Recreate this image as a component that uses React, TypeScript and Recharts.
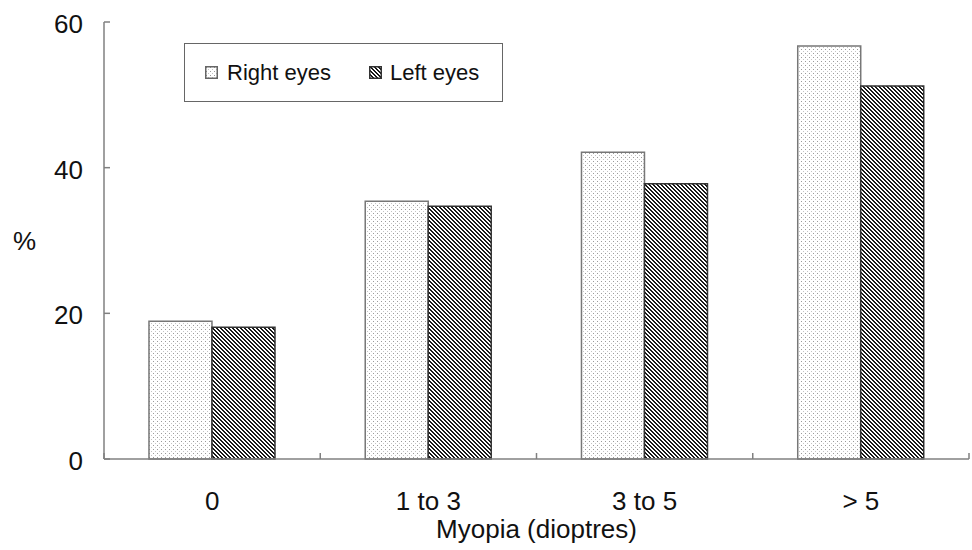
import { Bar, BarChart, Label, Legend, XAxis, YAxis } from 'recharts';

const categories = ['0', '1 to 3', '3 to 5', '> 5'];
const rightEyes = [18.9, 35.4, 42.1, 56.7];
const leftEyes = [18.1, 34.7, 37.8, 51.2];
const yTicks = [0, 20, 40, 60];

const data = categories.map((name, i) => ({ name, right: rightEyes[i], left: leftEyes[i] }));

const W = 972;
const H = 550;
const M = { top: 22, right: 3, bottom: 0, left: 0 };
const Y_W = 104;
const X_H = 91;
const PLOT_W = W - M.left - M.right - Y_W;
const FONT = '"Liberation Sans", Arial, sans-serif';
const AXIS = '#808080';

// pixel-aligned diagonal "\" stripes, 2px dark in a 4px tile
const HATCH_PX = [0, 1, 2, 3];

function Patterns({ prefix }: { prefix: string }) {
  return (
    <defs>
      <pattern id={`${prefix}dots`} width={4} height={4} patternUnits="userSpaceOnUse">
        <rect width={4} height={4} fill="#fff" />
        <rect x={1} y={1} width={1} height={1} fill="#9a9a9a" />
        <rect x={3} y={3} width={1} height={1} fill="#c4c4c4" />
      </pattern>
      <pattern id={`${prefix}hatch`} width={4} height={4} patternUnits="userSpaceOnUse">
        <rect width={4} height={4} fill="#fff" />
        {HATCH_PX.map((i) => (
          <g key={i} shapeRendering="crispEdges">
            <rect x={i} y={i} width={1} height={1} fill="#1a1a1a" />
            <rect x={(i + 1) % 4} y={i} width={1} height={1} fill="#1a1a1a" />
          </g>
        ))}
      </pattern>
    </defs>
  );
}

function XTick(props: any) {
  const { x, y, payload, index } = props;
  const band = PLOT_W / categories.length;
  return (
    <g>
      <line x1={x - band / 2} x2={x - band / 2} y1={y} y2={y - 6} stroke={AXIS} strokeWidth={1.5} />
      {index === categories.length - 1 && (
        <line x1={x + band / 2} x2={x + band / 2} y1={y} y2={y - 6} stroke={AXIS} strokeWidth={1.5} />
      )}
      <text x={x} y={y + 51} textAnchor="middle" fontSize={26} fontFamily={FONT} fill="#111">
        {payload.value}
      </text>
    </g>
  );
}

function YTick(props: any) {
  const { x, y, payload } = props;
  return (
    <g>
      <line x1={x} x2={x + 6} y1={y} y2={y} stroke={AXIS} strokeWidth={1.5} />
      <text x={x - 21} y={y + 11} textAnchor="end" fontSize={26} fontFamily={FONT} fill="#111">
        {payload.value}
      </text>
    </g>
  );
}

function Swatch({ kind }: { kind: 'dots' | 'hatch' }) {
  return (
    <svg width={13} height={13} style={{ display: 'block' }}>
      <Patterns prefix="lg-" />
      <rect
        x={0.75}
        y={0.75}
        width={11.5}
        height={11.5}
        fill={`url(#lg-${kind})`}
        stroke={kind === 'dots' ? '#666' : '#333'}
        strokeWidth={1.5}
      />
    </svg>
  );
}

function LegendBox() {
  const text = { fontSize: 22, fontFamily: FONT, color: '#111', lineHeight: '22px' };
  return (
    <div
      style={{
        boxSizing: 'border-box',
        width: 319,
        height: 59,
        border: '1.5px solid #666',
        background: '#fff',
        display: 'flex',
        alignItems: 'center',
        paddingLeft: 20,
      }}
    >
      <Swatch kind="dots" />
      <span style={{ ...text, marginLeft: 9 }}>Right eyes</span>
      <span style={{ marginLeft: 38 }}>
        <Swatch kind="hatch" />
      </span>
      <span style={{ ...text, marginLeft: 8 }}>Left eyes</span>
    </div>
  );
}

export default function App() {
  return (
    <div style={{ position: 'absolute', left: 0, top: 0, background: '#fff' }}>
      <BarChart width={W} height={H} data={data} margin={M} barCategoryGap="20.8%" barGap={0}>
        <Patterns prefix="" />
        <XAxis
          dataKey="name"
          height={X_H}
          tickSize={0}
          tickMargin={0}
          tick={<XTick />}
          axisLine={{ stroke: AXIS, strokeWidth: 1.5 }}
          interval={0}
        >
          <Label
            value="Myopia (dioptres)"
            position="insideBottom"
            offset={12}
            style={{ fontSize: 26, fontFamily: FONT, fill: '#111' }}
          />
        </XAxis>
        <YAxis
          width={Y_W}
          domain={[0, 60]}
          ticks={yTicks}
          tickSize={0}
          tickMargin={0}
          tick={<YTick />}
          axisLine={{ stroke: AXIS, strokeWidth: 1.5 }}
        >
          <Label
            value="%"
            position="insideLeft"
            offset={13}
            style={{ fontSize: 26, fontFamily: FONT, fill: '#111' }}
          />
        </YAxis>
        <Legend
          verticalAlign="middle"
          align="center"
          content={<LegendBox />}
          wrapperStyle={{ left: 184, top: 43, width: 319, height: 59 }}
        />
        <Bar dataKey="right" name="Right eyes" fill="url(#dots)" stroke="#777" strokeWidth={1.5} isAnimationActive={false} />
        <Bar dataKey="left" name="Left eyes" fill="url(#hatch)" stroke="#333" strokeWidth={1.5} isAnimationActive={false} />
      </BarChart>
    </div>
  );
}
